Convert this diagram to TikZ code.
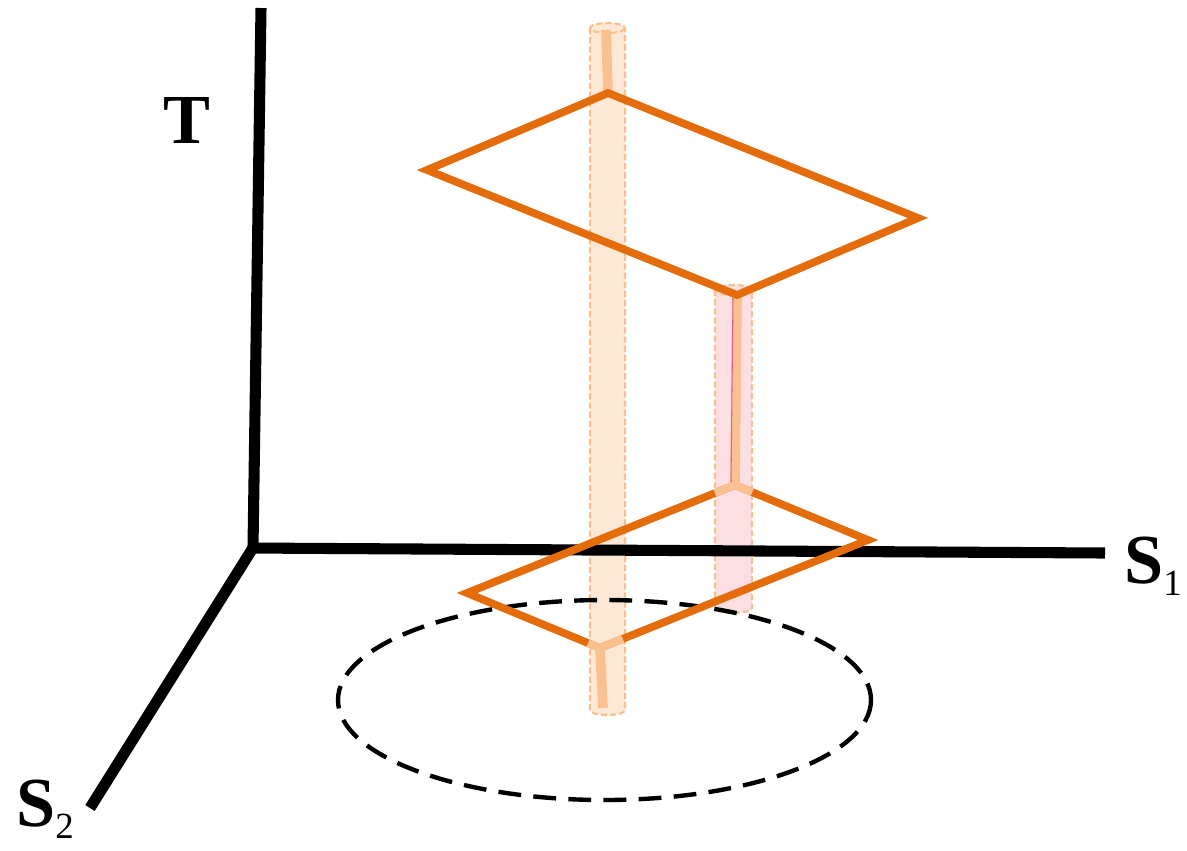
\documentclass[tikz,border=0pt]{standalone}
\usepackage{fontspec}
\setmainfont{Liberation Serif}
\usetikzlibrary{calc}
\definecolor{org}{RGB}{228,108,10}
\definecolor{rodc}{RGB}{250,192,144}
\definecolor{cylA}{RGB}{253,232,214}
\definecolor{cylB}{RGB}{252,223,226}
\definecolor{cylE}{RGB}{249,192,143}
\definecolor{pinkl}{RGB}{230,90,150}
\tikzset{
  axisline/.style={line width=6.3pt, black},
  plane/.style={line width=4.4pt, org, line join=miter},
  rod/.style={line width=5.5pt, rodc},
  joint/.style={line width=4.4pt, rodc},
  cylbody/.style={draw=cylE, line width=1.2pt, dash pattern=on 3.5pt off 1.7pt},
  disc/.style={line width=2.5pt, black, dash pattern=on 13pt off 7pt},
  lab/.style={inner sep=0pt, anchor=base west, font=\fontsize{40}{40}\selectfont\bfseries},
}
\newcommand{\subnum}[1]{{\fontsize{21}{21}\selectfont\mdseries\raisebox{-7pt}{#1}}}
\begin{document}
\begin{tikzpicture}[x=0.02cm, y=-0.02cm]
\useasboundingbox (0,0) rectangle (1187,850);
% cylinders
\fill[cylA] (590,28) -- (590,710) arc[start angle=180, end angle=0, x radius=17.5, y radius=5] -- (625,28) arc[start angle=0, end angle=-180, x radius=17.5, y radius=5] -- cycle;
\draw[cylbody] (590,28) -- (590,710) arc[start angle=180, end angle=0, x radius=17.5, y radius=5] -- (625,28);
\draw[cylbody] (607.5,28) ellipse [x radius=17.5, y radius=5];
\fill[cylB] (715,290) -- (715,608) arc[start angle=180, end angle=0, x radius=18.5, y radius=5] -- (752,290) arc[start angle=0, end angle=-180, x radius=18.5, y radius=5] -- cycle;
\draw[cylbody] (715,290) -- (715,608) arc[start angle=180, end angle=0, x radius=18.5, y radius=5] -- (752,290);
\draw[cylbody] (733.5,290) ellipse [x radius=18.5, y radius=5];
% axes
\coordinate (O) at (253,548);
\coordinate (Ttop) at (261,8);
\coordinate (S1end) at (1105,553);
\coordinate (S2end) at (90,808);
\draw[axisline] (Ttop) -- (O);
\draw[axisline] (248,548) -- (S1end);
\draw[axisline] (256,543) -- (S2end);
\node[lab] (T) at (163,143) {T};
\node[lab] (S1) at (1124,583) {S\subnum{1}};
\node[lab] (S2) at (16,826) {S\subnum{2}};
% dashed disc
\draw[disc] (604.5,700) ellipse [x radius=266.5, y radius=100];
% lower plane
\coordinate (La) at (735,485);
\coordinate (Lb) at (467,593);
\coordinate (Lc) at (600,648);
\coordinate (Ld) at (868,540);
\draw[plane] (La) -- (Lb) -- (Lc) -- (Ld) -- cycle;
% upper plane
\coordinate (Ua) at (608,93);
\coordinate (Ub) at (427,170);
\coordinate (Uc) at (737,295);
\coordinate (Ud) at (918,218);
% rods
\coordinate (R1top) at (606,30);
\coordinate (R1bot) at (603,708);
\draw[rod] (R1top) -- (Ua);
\draw[rod] (Lc) -- (R1bot);
\draw[joint] ($(Lc)!0.09!(Lb)$) -- (Lc) -- ($(Lc)!0.085!(Ld)$);
\draw[rod] (Uc) -- (La);
\draw[pinkl, line width=0.6pt] ($(Uc)+(-4,3)$) -- ($(La)+(-4,-3)$);
\draw[joint] ($(La)!0.075!(Lb)$) -- (La) -- ($(La)!0.13!(Ld)$);
\draw[plane] (Ua) -- (Ub) -- (Uc) -- (Ud) -- cycle;
\end{tikzpicture}
\end{document}
